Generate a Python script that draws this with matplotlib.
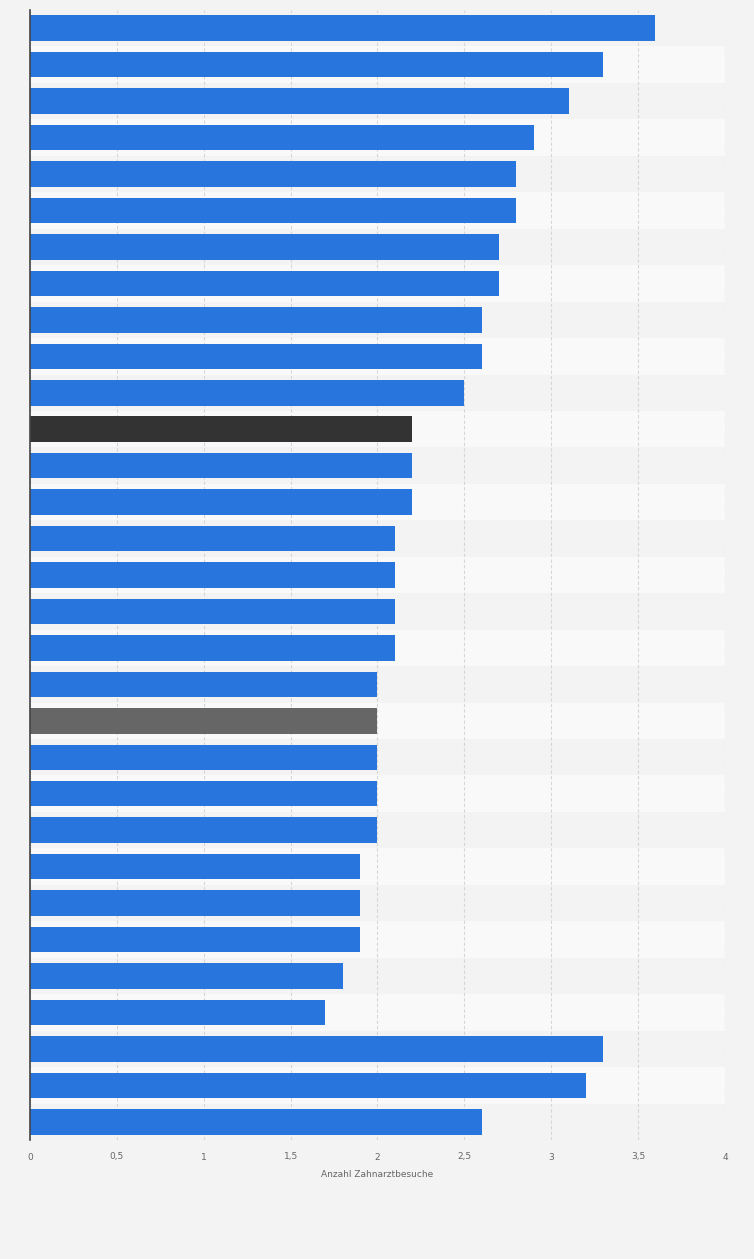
import numpy as np
import matplotlib.pyplot as plt

# Anzahl Zahnarztbesuche je Land (Kategorien im Original nicht beschriftet)
values = [3.6, 3.3, 3.1, 2.9, 2.8, 2.8, 2.7, 2.7, 2.6, 2.6, 2.5, 2.2, 2.2, 2.2,
          2.1, 2.1, 2.1, 2.1, 2.0, 2.0, 2.0, 2.0, 2.0, 1.9, 1.9, 1.9, 1.8, 1.7,
          3.3, 3.2, 2.6]
highlight = {11: '#333333', 19: '#666666'}
xticks = [0, 0.5, 1, 1.5, 2, 2.5, 3, 3.5, 4]
xticklabels = ['0', '0,5', '1', '1,5', '2', '2,5', '3', '3,5', '4']

fig = plt.figure(figsize=(7.54, 12.59), dpi=100)
fig.patch.set_facecolor('#f3f3f3')
ax = fig.add_axes([30/754, 1 - 1140/1259, 695/754, 1130/1259])
ax.set_facecolor('#f3f3f3')

n = len(values)
y = np.arange(n)
colors = [highlight.get(i, '#2876dd') for i in range(n)]

# alternating row bands
for i in range(n):
    if i % 2 == 1:
        ax.axhspan(i - 0.5, i + 0.5, color='#f9f9f9', zorder=0, lw=0)

ax.barh(y, values, height=0.7, color=colors, zorder=3)

ax.set_xlim(0, 4)
ax.set_ylim(n - 0.5, -0.5)
ax.set_yticks([])
ax.set_xticks(xticks)
ax.set_xticklabels(xticklabels, fontsize=6.5, color='#666666')
ax.tick_params(axis='x', length=0, pad=9)
ax.grid(axis='x', color='#d6d6d6', linestyle=(0, (3, 2)), linewidth=0.8, zorder=1)

for s in ['top', 'right', 'bottom']:
    ax.spines[s].set_visible(False)
ax.spines['left'].set_color('#444444')
ax.spines['left'].set_linewidth(1.2)
ax.spines['left'].set_zorder(4)

ax.set_xlabel('Anzahl Zahnarztbesuche', fontsize=6.5, color='#666666', labelpad=6)

fig.savefig('out.png', dpi=100, facecolor=fig.get_facecolor())
